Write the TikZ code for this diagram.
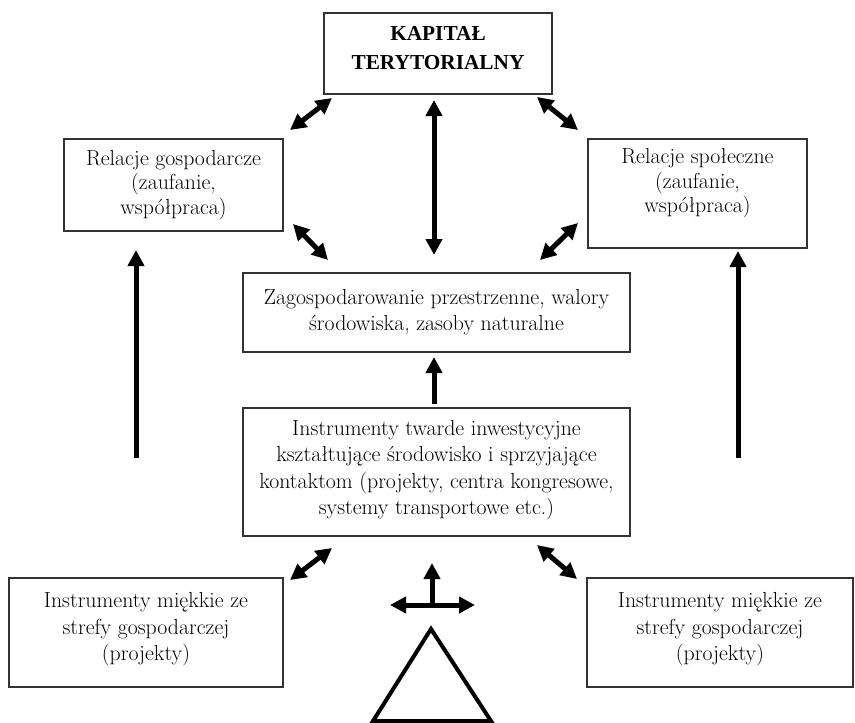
\documentclass[tikz,border=0pt]{standalone}
\usepackage{fontspec}
\newfontfamily\titlefont{Liberation Serif}
\usetikzlibrary{arrows.meta}
\begin{document}
\begin{tikzpicture}[x=1pt,y=-1pt,
  box/.style={draw=black!80,line width=1.3pt,align=center,inner sep=0pt,
    font=\fontsize{21.8}{26.5}\selectfont},
  conn/.style={line width=5pt,-{Triangle[length=16pt,width=16pt]}},
  dconn/.style={line width=5pt,{Triangle[length=16pt,width=16pt]}-{Triangle[length=16pt,width=16pt]}}]
\useasboundingbox (0,0) rectangle (855,723);
\node[box,minimum width=228pt,minimum height=81pt,font=\titlefont\bfseries\fontsize{21.3}{29}\selectfont] (kap) at (438,53.5) {KAPITAŁ\\TERYTORIALNY\rule[-12pt]{0pt}{0pt}};
\node[box,minimum width=219pt,minimum height=92pt,font=\fontsize{21.8}{24.5}\selectfont] (rg) at (173.5,185) {Relacje gospodarcze\\(zaufanie,\\współpraca)\rule[-5pt]{0pt}{0pt}};
\node[box,minimum width=219pt,minimum height=109pt,font=\fontsize{21.8}{24.5}\selectfont] (rs) at (697.5,193.5) {Relacje społeczne\\(zaufanie,\\współpraca)\rule[-26pt]{0pt}{0pt}};
\node[box,minimum width=387pt,minimum height=79pt] (zag) at (436.5,312.5) {Zagospodarowanie przestrzenne, walory\\środowiska, zasoby naturalne\rule[-5pt]{0pt}{0pt}};
\node[box,minimum width=387pt,minimum height=128pt] (tw) at (436.5,472) {Instrumenty twarde inwestycyjne\\kształtujące środowisko i sprzyjające\\kontaktom (projekty, centra kongresowe,\\systemy transportowe etc.)\rule[-9pt]{0pt}{0pt}};
\node[box,minimum width=274pt,minimum height=109pt] (ml) at (146,632.5) {Instrumenty miękkie ze\\strefy gospodarczej\\(projekty)\rule[-12pt]{0pt}{0pt}};
\node[box,minimum width=266pt,minimum height=109pt] (mr) at (720,632.5) {Instrumenty miękkie ze\\strefy gospodarczej\\(projekty)\rule[-12pt]{0pt}{0pt}};
% connector end points
\coordinate (a1) at (290,130); \coordinate (a2) at (332,98);
\coordinate (b1) at (537,97);  \coordinate (b2) at (578,130);
\coordinate (c1) at (434,100); \coordinate (c2) at (434,255);
\coordinate (d1) at (293,224); \coordinate (d2) at (328,260);
\coordinate (e1) at (578,223); \coordinate (e2) at (540,260);
\coordinate (f1) at (434,404); \coordinate (f2) at (434,357);
\coordinate (g1) at (136,458); \coordinate (g2) at (136,250);
\coordinate (h1) at (738,458); \coordinate (h2) at (738,251);
\coordinate (i1) at (290,580); \coordinate (i2) at (332,548);
\coordinate (j1) at (537,545); \coordinate (j2) at (577,579);
\coordinate (k0) at (432,605); \coordinate (k1) at (432,563);
\coordinate (k2) at (390,605); \coordinate (k3) at (475,605);
\draw[dconn] (a1) -- (a2);
\draw[dconn] (b1) -- (b2);
\draw[dconn] (c1) -- (c2);
\draw[dconn] (d1) -- (d2);
\draw[dconn] (e1) -- (e2);
\draw[conn] (f1) -- (f2);
\draw[conn] (g1) -- (g2);
\draw[conn] (h1) -- (h2);
\draw[dconn] (i1) -- (i2);
\draw[dconn] (j1) -- (j2);
\draw[conn] (k0) -- (k1);
\draw[dconn] (k2) -- (k3);
% triangle
\draw[line width=4pt,line join=miter] (373,721) -- (431,629) -- (491,721) -- cycle;
\end{tikzpicture}
\end{document}
